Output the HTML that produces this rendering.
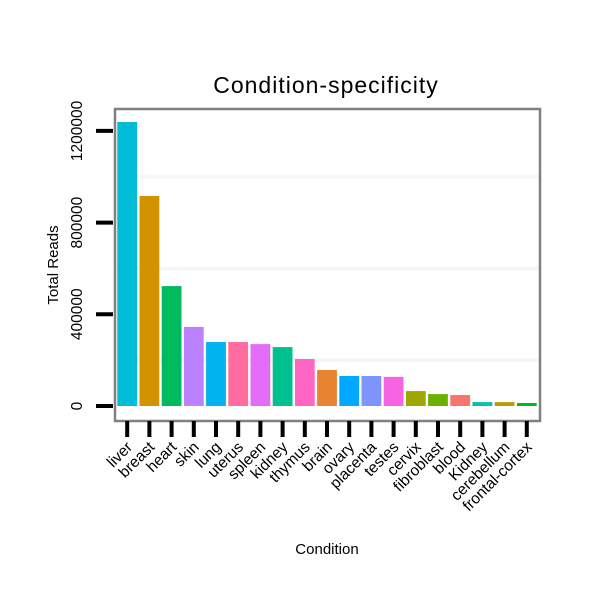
<!DOCTYPE html>
<html><head><meta charset="utf-8"><style>
html,body{margin:0;padding:0;background:#fff}
svg text{font-family:"Liberation Sans","DejaVu Sans",sans-serif;fill:#000}
</style></head><body>
<svg id="chart" width="600" height="600" xmlns="http://www.w3.org/2000/svg">
<rect width="600" height="600" fill="#fff"/>
<text x="326" y="93" font-size="23" letter-spacing="1" text-anchor="middle">Condition-specificity</text>
<text transform="translate(58,265) rotate(-90)" font-size="15" text-anchor="middle">Total Reads</text>
<text x="327" y="554" font-size="15" text-anchor="middle">Condition</text>
<g id="grid"></g>
<g id="bars"></g>
<rect x="115" y="109" width="425" height="312" fill="none" stroke="#808080" stroke-width="2.5"/>
<g id="yaxis"></g>
<g id="xaxis"></g>
</svg>
<script>
const categories=["liver","breast","heart","skin","lung","uterus","spleen","kidney","thymus","brain","ovary","placenta","testes","cervix","fibroblast","blood","Kidney","cerebellum","frontal-cortex"];
const values=[1239000,916000,523000,345000,279000,279000,270000,257000,205000,157000,131000,131000,127000,65000,52000,48000,17000,17000,13000];
const colors=["#00BCD6","#D39200","#00BA60","#BC81FF","#00B4EF","#FF6C9D","#E36DF7","#00C090","#FF65C2","#E88431","#00A9FF","#8094FF","#F663E3","#9EA700","#6DB100","#F8766D","#00BFB5","#C09B00","#00B925"];
const yTicks=[0,400000,800000,1200000];
const yTickLabels=["0","400000","800000","1200000"];
const minorGrid=[200000,600000,1000000];
const NS="http://www.w3.org/2000/svg";
const y0=406, pxPer=91.7/400000;
function yScale(v){return y0-v*pxPer;}
const band=22.2, x0=117.3, bw=19.8;
function xCenter(i){return x0+bw/2+i*band;}
function mk(tag,attrs,parent){const e=document.createElementNS(NS,tag);for(const k in attrs)e.setAttribute(k,attrs[k]);parent.appendChild(e);return e;}
const grid=document.getElementById('grid'),bars=document.getElementById('bars'),ya=document.getElementById('yaxis'),xa=document.getElementById('xaxis');
minorGrid.forEach(v=>{const l=mk('line',{x1:116,x2:539,y1:yScale(v),y2:yScale(v),stroke:'#f6f6f6','stroke-width':4},grid);

});
values.forEach((v,i)=>{const r=mk('rect',{x:xCenter(i)-bw/2,y:yScale(v),width:bw,height:y0-yScale(v),fill:colors[i]},bars);

});
yTicks.forEach((v,i)=>{const y=yScale(v);
const t=mk('line',{x1:96,x2:113,y1:y,y2:y,stroke:'#000','stroke-width':4},ya);


const tx=mk('text',{transform:`translate(82,${y}) rotate(-90)`,'font-size':15.5,'text-anchor':'middle'},ya);tx.textContent=yTickLabels[i];

});
categories.forEach((c,i)=>{const x=xCenter(i);
const t=mk('line',{x1:x,x2:x,y1:421,y2:437,stroke:'#000','stroke-width':4},xa);


const tx=mk('text',{transform:`translate(${x+6},${448}) rotate(-45)`,'font-size':15.5,'text-anchor':'end'},xa);tx.textContent=c;

});
</script>
</body></html>
